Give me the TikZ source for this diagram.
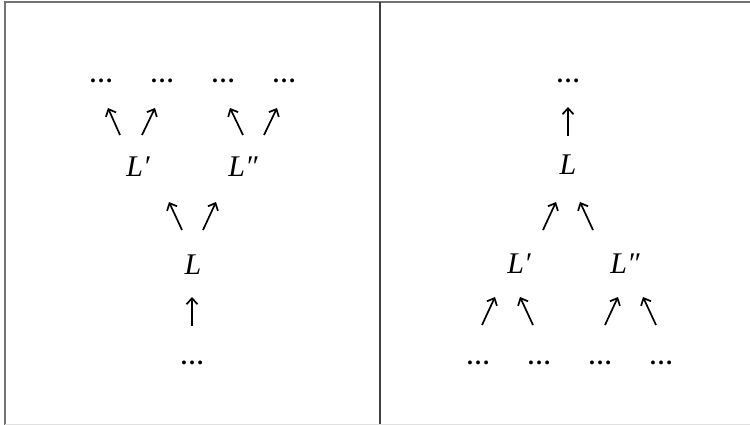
\documentclass[tikz,border=0pt]{standalone}
\usepackage{fontspec}
\setmainfont{Liberation Serif}
\usetikzlibrary{arrows.meta}
\begin{document}
\begin{tikzpicture}[x=1pt,y=-1pt,
  lab/.style={inner sep=0pt,font=\fontsize{30}{34}\selectfont\itshape},
  dts/.style={inner sep=0pt,font=\fontsize{24}{28}\selectfont\bfseries},
  arr/.style={line width=1.7pt,-{Straight Barb[length=6pt,width=11pt,line width=1.7pt]}},
  frame/.style={line width=2pt,draw=black!55}]
\useasboundingbox (0,0) rectangle (750,425);
% frame
\draw[frame] (4,2) -- (750,2);
\draw[frame] (5,1) -- (5,425);
\draw[line width=2pt,draw=black!75] (380,2) -- (380,425);
\draw[line width=0.6pt,draw=black!12] (5,424) -- (750,424);
% left panel
\node[dts] (a1) at (101,81) {…};
\node[dts] (a2) at (162,81) {…};
\node[dts] (a3) at (223,81) {…};
\node[dts] (a4) at (284,81) {…};
\node[lab] (lp) at (138,167) {L′};
\node[lab] (lpp) at (243,167) {L″};
\node[lab] (l) at (193,265) {L};
\node[dts] (b) at (192,363) {…};
\coordinate (s1) at (120,135); \coordinate (e1) at (108,108);
\coordinate (s2) at (142,135); \coordinate (e2) at (155,108);
\coordinate (s3) at (243,135); \coordinate (e3) at (230,108);
\coordinate (s4) at (264,135); \coordinate (e4) at (277,108);
\coordinate (s5) at (182,230); \coordinate (e5) at (169,202);
\coordinate (s6) at (203,230); \coordinate (e6) at (216,202);
\coordinate (s7) at (192,326); \coordinate (e7) at (192,297);
\foreach \i in {1,...,7} \draw[arr] (s\i) -- (e\i);
% right panel
\node[dts] (c) at (568,81) {…};
\node[lab] (r) at (568,165) {L};
\node[lab] (rp) at (519,264) {L′};
\node[lab] (rpp) at (625,264) {L″};
\node[dts] (d1) at (478,363) {…};
\node[dts] (d2) at (539,363) {…};
\node[dts] (d3) at (600,363) {…};
\node[dts] (d4) at (661,363) {…};
\coordinate (t1) at (568,136); \coordinate (f1) at (568,107);
\coordinate (t2) at (543,230); \coordinate (f2) at (556,202);
\coordinate (t3) at (593,230); \coordinate (f3) at (580,202);
\coordinate (t4) at (482,325); \coordinate (f4) at (495,297);
\coordinate (t5) at (533,325); \coordinate (f5) at (520,297);
\coordinate (t6) at (605,325); \coordinate (f6) at (618,297);
\coordinate (t7) at (656,325); \coordinate (f7) at (643,297);
\foreach \i in {1,...,7} \draw[arr] (t\i) -- (f\i);
\end{tikzpicture}
\end{document}
